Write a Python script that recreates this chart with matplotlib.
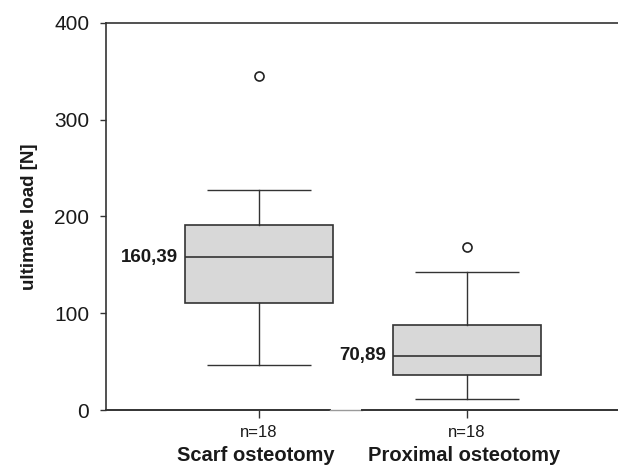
import matplotlib.pyplot as plt

plt.rcParams['font.family'] = ['Liberation Sans', 'DejaVu Sans']

# data
groups = ['Scarf osteotomy', 'Proximal osteotomy']
counts = ['n=18', 'n=18']
means = ['160,39', '70,89']
whislo = [46, 11]
q1 = [111, 36]
med = [158, 56]
q3 = [191, 88]
whishi = [227, 143]
fliers = [[345], [168]]

stats = []
for i in range(len(groups)):
    stats.append(dict(whislo=whislo[i], q1=q1[i], med=med[i], q3=q3[i],
                      whishi=whishi[i], fliers=fliers[i]))

fig = plt.figure(figsize=(6.18, 4.65), dpi=100)
left = 106
step = 208
ax = fig.add_axes([left/618, 1-410/465, 1-left/618, (410-23)/465])

line_c = '#333333'
ax.bxp(stats, positions=[1, 2], widths=0.71, patch_artist=True, showcaps=True,
       boxprops=dict(facecolor='#d8d8d8', edgecolor=line_c, linewidth=1.2),
       medianprops=dict(color=line_c, linewidth=1.2),
       whiskerprops=dict(color=line_c, linewidth=1.0),
       capprops=dict(color=line_c, linewidth=1.0, solid_capstyle='butt'),
       capwidths=0.5,
       flierprops=dict(marker='o', markerfacecolor='white', markeredgecolor='#222222',
                       markersize=6.5, markeredgewidth=1.2))

ax.set_xlim(1-(259-left)/step, 1+(618-259)/step)
ax.set_ylim(0, 400)
ax.set_yticks([0, 100, 200, 300, 400])
ax.tick_params(axis='y', labelsize=15, length=4, width=1, color='#333333', pad=8,
               labelcolor='#1a1a1a')
ax.set_xticks([1, 2])
ax.set_xticklabels(counts, fontsize=12, color='#1a1a1a')
ax.tick_params(axis='x', length=6, width=1, color='#333333', pad=5)

ax.spines['right'].set_visible(False)
ax.spines['bottom'].set_visible(False)
for s in ['left', 'top']:
    ax.spines[s].set_color('#333333')
    ax.spines[s].set_linewidth(1.2)
# bottom line, a little faded between the boxes in the original scan
span = 618 - left
ax.axhline(0, xmin=0, xmax=(330-left)/span, color='#333333', lw=1.4, clip_on=False)
ax.axhline(0, xmin=(330-left)/span, xmax=(362-left)/span, color='#9a9a9a', lw=1.0,
           clip_on=False)
ax.axhline(0, xmin=(362-left)/span, xmax=1, color='#333333', lw=1.4, clip_on=False)

ax.set_ylabel('ultimate load [N]', fontsize=13.5, fontweight='bold', labelpad=12,
              color='#1a1a1a')

for i in range(len(groups)):
    ax.text(i + 1 - 0.39, med[i], means[i], ha='right', va='center',
            fontsize=13.5, fontweight='bold', color='#1a1a1a')
    ax.text(i + 1 - 0.015, -0.092, groups[i], transform=ax.get_xaxis_transform(),
            ha='center', va='top', fontsize=14.5, fontweight='bold', color='#1a1a1a')

fig.savefig('out.png', dpi=100)
